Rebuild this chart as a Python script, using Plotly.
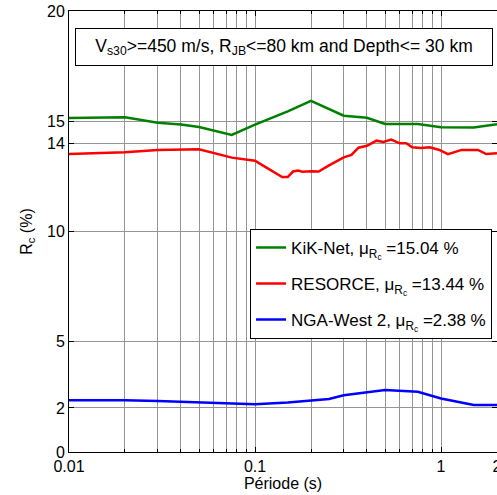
import plotly.graph_objects as go

# ---- data ----
kik_T = [0.01, 0.02, 0.03, 0.04, 0.05, 0.075, 0.1, 0.15, 0.2, 0.25, 0.3, 0.4, 0.5, 0.75, 1.0, 1.5, 2.0]
kik_R = [15.15, 15.18, 14.93, 14.85, 14.74, 14.38, 14.85, 15.45, 15.92, 15.55, 15.25, 15.16, 14.88, 14.88, 14.73, 14.72, 14.86]

res_T = [0.01, 0.02, 0.03, 0.04, 0.05, 0.075, 0.1, 0.11, 0.12, 0.13, 0.14, 0.15, 0.16, 0.17, 0.18,
         0.2, 0.22, 0.25, 0.28, 0.3, 0.33, 0.36, 0.4, 0.45, 0.49, 0.54, 0.6, 0.65, 0.7, 0.78,
         0.87, 0.98, 1.09, 1.29, 1.58, 1.75, 2.0]
res_R = [13.51, 13.59, 13.70, 13.73, 13.73, 13.35, 13.21, 13.0, 12.8, 12.6, 12.47, 12.47, 12.72, 12.76, 12.71,
         12.73, 12.72, 13.0, 13.24, 13.36, 13.47, 13.80, 13.89, 14.12, 14.06, 14.17, 14.0, 14.0, 13.82, 13.79,
         13.82, 13.70, 13.51, 13.70, 13.70, 13.51, 13.55]

nga_T = [0.01, 0.02, 0.03, 0.05, 0.075, 0.1, 0.15, 0.2, 0.25, 0.3, 0.4, 0.5, 0.75, 1.0, 1.5, 2.0]
nga_R = [2.35, 2.35, 2.31, 2.25, 2.20, 2.16, 2.24, 2.32, 2.40, 2.57, 2.70, 2.81, 2.73, 2.43, 2.13, 2.13]

names = ["KiK-Net, μ<sub>R<sub>c</sub></sub> =15.04 %",
         "RESORCE, μ<sub>R<sub>c</sub></sub> =13.44 %",
         "NGA-West 2, μ<sub>R<sub>c</sub></sub> =2.38 %"]
colors = ["#008000", "#ff0000", "#0000ff"]

x_ticks = [0.01, 0.1, 1, 2]
x_ticktext = ["0.01", "0.1", "1", "2"]
x_minor = [0.02, 0.03, 0.04, 0.05, 0.06, 0.07, 0.08, 0.09,
           0.2, 0.3, 0.4, 0.5, 0.6, 0.7, 0.8, 0.9]
y_ticks = [0, 2, 5, 10, 14, 15, 20]

FONT = "Liberation Sans, Arial, sans-serif"

fig = go.Figure()
for i, (T, R, nm, c) in enumerate(zip([kik_T, res_T, nga_T], [kik_R, res_R, nga_R], names, colors)):
    fig.add_trace(go.Scatter(x=T, y=R, mode="lines", name=nm, legendgroup=f"g{i}",
                             line=dict(color=c, width=2.5)))

grid = "#959595"
fig.update_layout(
    width=497, height=495,
    margin=dict(l=69, r=0, t=11, b=43),
    plot_bgcolor="white", paper_bgcolor="white",
    font=dict(family=FONT, size=16, color="black"),
    showlegend=True,
    legend=dict(x=0.423, y=0.506, xanchor="left", yanchor="top",
                bgcolor="white", bordercolor="black", borderwidth=1,
                font=dict(family=FONT, size=17, color="black"),
                itemwidth=30, tracegroupgap=11),
    xaxis=dict(type="log", range=[-2, 0.30104], automargin=False,
               tickvals=x_ticks, ticktext=x_ticktext, ticklabeloverflow="allow",
               ticks="inside", ticklen=5, tickcolor="black",
               showline=True, linecolor="black", linewidth=1, mirror="ticks",
               showgrid=True, gridcolor=grid, gridwidth=1,
               zeroline=False,
               tickfont=dict(size=16),
               minor=dict(tickvals=x_minor, ticks="inside", ticklen=3,
                          tickcolor="black", showgrid=True, gridcolor=grid, gridwidth=1),
               title=dict(text="Période (s)", font=dict(size=16), standoff=0)),
    yaxis=dict(range=[0, 20], tickvals=y_ticks, automargin=False,
               ticks="inside", ticklen=5, tickcolor="black",
               showline=True, linecolor="black", linewidth=1, mirror="ticks",
               showgrid=True, gridcolor=grid, gridwidth=1,
               zeroline=False,
               tickfont=dict(size=16),
               title=dict(text="R<sub>c</sub> (%)", font=dict(size=16), standoff=10)),
)

fig.add_annotation(
    xref="paper", yref="paper", x=0.502, y=0.9195,
    xanchor="center", yanchor="middle",
    text="V<sub>s30</sub>&gt;=450 m/s, R<sub>JB</sub>&lt;=80 km and Depth&lt;= 30 km",
    showarrow=False, font=dict(family=FONT, size=17.5, color="black"),
    bgcolor="white", bordercolor="black", borderwidth=1, borderpad=2,
    width=412, height=32,
)

fig.write_html("out.html", config={"displayModeBar": False},
               post_script="document.body.style.margin='0';")
